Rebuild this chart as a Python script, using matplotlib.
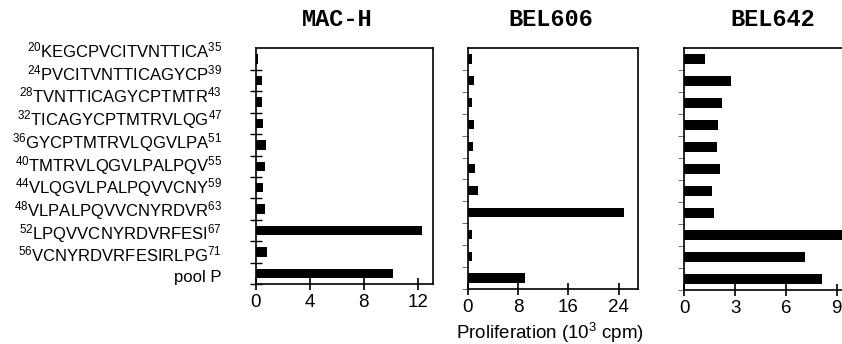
import matplotlib
matplotlib.use("Agg")
import matplotlib.pyplot as plt

plt.rcParams['font.family'] = ['Liberation Sans', 'DejaVu Sans']
plt.rcParams['mathtext.fontset'] = 'custom'
plt.rcParams['mathtext.rm'] = 'Liberation Sans'
plt.rcParams['mathtext.it'] = 'Liberation Sans'

# peptide labels
peptides = ["KEGCPVCITVNTTICA", "PVCITVNTTICAGYCP", "TVNTTICAGYCPTMTR",
            "TICAGYCPTMTRVLQG", "GYCPTMTRVLQGVLPA", "TMTRVLQGVLPALPQV",
            "VLQGVLPALPQVVCNY", "VLPALPQVVCNYRDVR", "LPQVVCNYRDVRFESI",
            "VCNYRDVRFESIRLPG"]
starts = [20, 24, 28, 32, 36, 40, 44, 48, 52, 56]
ends = [35, 39, 43, 47, 51, 55, 59, 63, 67, 71]
pool_label = "pool P"

# proliferation (10^3 cpm)
mac_h = [0.2, 0.47, 0.48, 0.55, 0.76, 0.68, 0.55, 0.7, 12.3, 0.8, 10.15]
bel606 = [0.74, 1.0, 0.74, 1.06, 0.9, 1.2, 1.6, 24.8, 0.74, 0.74, 9.1]
bel642 = [1.24, 2.78, 2.25, 1.97, 1.91, 2.09, 1.63, 1.73, 9.6, 7.13, 8.11]

titles = ["MAC-H", "BEL606", "BEL642"]
xticks_list = [[0, 4, 8, 12], [0, 8, 16, 24], [0, 3, 6, 9]]
xlims = [13.1, 27.1, 10.45]

W, H = 842, 344
fig = plt.figure(figsize=(W / 100, H / 100), dpi=100)

def px_axes(left, top, right, bottom):
    return fig.add_axes([left / W, 1 - bottom / H, (right - left) / W, (bottom - top) / H])

boxes = [(255.7, 48.3, 432.7, 284.3), (467.7, 47.7, 638.3, 289.3), (684.3, 47.7, 861.3, 290)]
data = [mac_h, bel606, bel642]
ypos = list(range(len(mac_h)))
title_x = [336.7, 550.7, 772.7]

for i, (box, vals) in enumerate(zip(boxes, data)):
    ax = px_axes(*box)
    ax.barh(ypos, vals, height=0.44, color='black')
    ax.set_ylim(len(vals) - 0.5, -0.5)
    ax.set_xlim(0, xlims[i])
    ax.set_xticks(xticks_list[i])
    ax.set_yticks([])
    ax.set_yticks([k + 0.5 for k in range(len(vals))], minor=True)
    ax.tick_params(axis='x', direction='inout', length=8, width=1.2, labelsize=13.5, pad=3)
    if i == 0:
        ax.tick_params(axis='y', which='minor', direction='inout', length=9, width=1.0)
    else:
        ax.tick_params(axis='y', which='minor', direction='out', length=4, width=0.6, colors='#555555')
    for s in ax.spines.values():
        s.set_linewidth(1.2)
    if i == 2:
        ax.spines['right'].set_visible(False)
    fig.text(title_x[i] / W, 1 - 20 / H, titles[i], family='Liberation Mono',
             weight='bold', fontsize=17, ha='center', va='center')

# label column
labels = [r"$^{%d}$%s$^{%d}$" % (s, p, e) for s, p, e in zip(starts, peptides, ends)]
labels.append(pool_label)
lab_ax = px_axes(222, 49 - 11.33, 250, 275.7 + 11.33)
lab_ax.set_ylim(len(labels) - 0.5, -0.5)
lab_ax.set_xticks([])
lab_ax.set_yticks(range(len(labels)))
lab_ax.set_yticklabels(labels, fontsize=12)
lab_ax.tick_params(axis='y', length=0, pad=0)
for s in lab_ax.spines.values():
    s.set_visible(False)
lab_ax.patch.set_visible(False)

fig.text(550 / W, 1 - 333 / H, r"Proliferation (10$^3$ cpm)", fontsize=13.5,
         ha='center', va='center')

fig.savefig("out.png", dpi=100)
